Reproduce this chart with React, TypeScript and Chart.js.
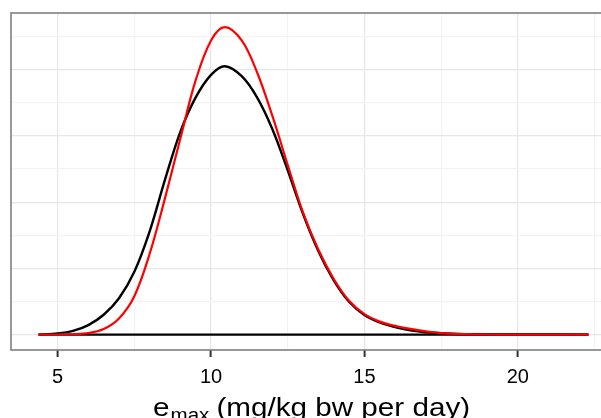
import React, { useEffect, useRef } from "react";
import { Chart, registerables } from "chart.js";

Chart.register(...registerables);

// x values (mg/kg bw per day)
const blackX = [4.38, 5.0, 5.5, 6.0, 6.5, 7.0, 7.5, 8.0, 8.5, 9.0, 9.5, 10.0, 10.45, 11.0, 11.5, 12.0, 12.5, 13.0, 13.5, 14.0, 14.5, 15.0, 15.5, 16.0, 16.5, 17.0, 18.0, 19.0, 20.0, 22.3];
const blackDensity = [0, 0.0008, 0.0028, 0.0072, 0.015, 0.0275, 0.0475, 0.078, 0.117, 0.153, 0.179, 0.196, 0.2025, 0.195, 0.179, 0.155, 0.124, 0.091, 0.063, 0.041, 0.0248, 0.0148, 0.0092, 0.0056, 0.0032, 0.0018, 0.0005, 0.0002, 0.0001, 0];

const redX = [4.38, 5.0, 5.5, 6.0, 6.5, 7.0, 7.5, 8.0, 8.5, 9.0, 9.5, 10.0, 10.45, 11.0, 11.5, 12.0, 12.5, 13.0, 13.5, 14.0, 14.5, 15.0, 15.5, 16.0, 16.5, 17.0, 17.5, 18.0, 19.0, 20.0, 22.3];
const redDensity = [0, 0.0001, 0.0003, 0.0011, 0.0042, 0.0122, 0.029, 0.061, 0.103, 0.148, 0.192, 0.222, 0.232, 0.222, 0.198, 0.165, 0.128, 0.092, 0.064, 0.042, 0.0255, 0.0155, 0.0098, 0.0066, 0.0043, 0.0025, 0.0012, 0.0005, 0.0001, 0, 0];

const baselineX = [4.38, 22.3];
const baselineY = [0, 0];

const xTickValues = [5, 7.5, 10, 12.5, 15, 17.5, 20, 22.5];
const xTickLabels = ["5", "", "10", "", "15", "", "20", ""];
const yTickValues = [0, 0.025, 0.05, 0.075, 0.1, 0.125, 0.15, 0.175, 0.2, 0.225];
const xLimits = [3.48, 23.2];
const yLimits = [-0.0116, 0.2427];

const axisTitleMain = "e";
const axisTitleSub = "max";
const axisTitleRest = " (mg/kg bw per day)";

const FONT = "'Liberation Sans', Arial, Helvetica, sans-serif";

const isMajorX = (v: number) => Math.abs(v / 5 - Math.round(v / 5)) < 1e-6;
const isMajorY = (v: number) => Math.abs(v / 0.05 - Math.round(v / 0.05)) < 1e-6;

const framePlugin = {
  id: "frame",
  afterDraw(chart: any) {
    const { ctx, chartArea: a } = chart;
    ctx.save();
    ctx.strokeStyle = "#7f7f7f";
    ctx.lineWidth = 1.6;
    ctx.strokeRect(a.left, a.top, a.right - a.left, a.bottom - a.top);

    // x-axis title with subscript
    const sx = 1.14;
    const mainFont = `26px ${FONT}`;
    const subFont = `18px ${FONT}`;
    ctx.font = mainFont;
    const w1 = ctx.measureText(axisTitleMain).width;
    const w3 = ctx.measureText(axisTitleRest).width;
    ctx.font = subFont;
    const w2 = ctx.measureText(axisTitleSub).width;
    const total = (w1 + w2 + w3) * sx;
    const cx = (a.left + a.right) / 2 - 2;
    const baseY = 416;
    ctx.translate(cx - total / 2, baseY);
    ctx.scale(sx, 1);
    ctx.fillStyle = "#000";
    ctx.textBaseline = "alphabetic";
    ctx.textAlign = "left";
    ctx.font = mainFont;
    ctx.fillText(axisTitleMain, 0, 0);
    ctx.font = subFont;
    ctx.fillText(axisTitleSub, w1 + 1, 5);
    ctx.font = mainFont;
    ctx.fillText(axisTitleRest, w1 + w2, 0);
    ctx.restore();
  },
};

export default function App() {
  const canvasRef = useRef<HTMLCanvasElement | null>(null);

  useEffect(() => {
    const canvas = canvasRef.current;
    if (!canvas) return;
    const chart = new Chart(canvas, {
      type: "line",
      data: {
        datasets: [
          {
            label: "red",
            data: redX.map((x, i) => ({ x, y: redDensity[i] })),
            borderColor: "#ff0000",
            borderWidth: 2.2,
            pointRadius: 0,
            tension: 0.35,
            fill: false,
          },
          {
            label: "black",
            data: blackX.map((x, i) => ({ x, y: blackDensity[i] })),
            borderColor: "#000000",
            borderWidth: 2.4,
            pointRadius: 0,
            tension: 0.35,
            fill: false,
          },
          {
            label: "baseline",
            data: baselineX.map((x, i) => ({ x, y: baselineY[i] })),
            borderColor: "#000000",
            borderWidth: 2.4,
            pointRadius: 0,
            fill: false,
          },
        ],
      },
      options: {
        animation: false,
        responsive: false,
        devicePixelRatio: 1,
        layout: { padding: { left: 11, top: 13, right: 24, bottom: 0 } },
        plugins: {
          legend: { display: false },
          tooltip: { enabled: false },
          title: { display: false },
        },
        scales: {
          x: {
            type: "linear",
            min: xLimits[0],
            max: xLimits[1],
            afterBuildTicks: (scale: any) => {
              scale.ticks = xTickValues.map((v) => ({ value: v }));
            },
            afterFit: (scale: any) => {
              scale.height = 68;
            },
            ticks: {
              autoSkip: false,
              maxRotation: 0,
              padding: 8,
              color: "#000",
              font: { family: FONT, size: 20 },
              callback: (_v: any, i: number) => xTickLabels[i],
            },
            border: { display: false },
            grid: {
              color: (c: any) => (isMajorX(c.tick.value) ? "#e6e6e6" : "#f3f3f3"),
              lineWidth: 1.2,
              drawTicks: true,
              tickLength: 7,
              tickColor: (c: any) => (isMajorX(c.tick.value) ? "#333333" : "rgba(0,0,0,0)"),
              tickWidth: 2,
            },
          },
          y: {
            type: "linear",
            min: yLimits[0],
            max: yLimits[1],
            afterBuildTicks: (scale: any) => {
              scale.ticks = yTickValues.map((v) => ({ value: v }));
            },
            afterFit: (scale: any) => {
              scale.width = 0;
            },
            ticks: { display: false },
            border: { display: false },
            grid: {
              color: (c: any) => (isMajorY(c.tick.value) ? "#e6e6e6" : "#f3f3f3"),
              lineWidth: 1.2,
              drawTicks: false,
            },
          },
        },
      },
      plugins: [framePlugin],
    });
    return () => chart.destroy();
  }, []);

  return (
    <div
      style={{
        position: "fixed",
        left: 0,
        top: 0,
        width: 601,
        height: 418,
        overflow: "hidden",
        background: "#fff",
      }}
    >
      <canvas
        ref={canvasRef}
        width={640}
        height={418}
        style={{ display: "block", width: 640, height: 418 }}
      />
    </div>
  );
}
